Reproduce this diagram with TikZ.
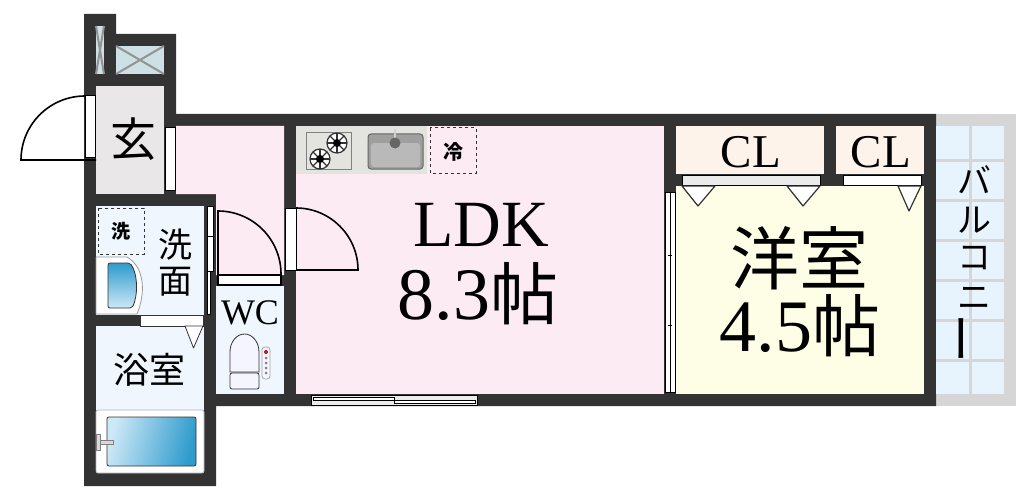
\documentclass[tikz,border=0pt]{standalone}
\usepackage{fontspec}
\setmainfont{Liberation Serif}
\newfontfamily\jp{Noto Sans CJK JP}
\usetikzlibrary{calc, positioning}
\definecolor{wallc}{HTML}{333333}
\definecolor{pinkc}{HTML}{FDEBF3}
\definecolor{creamc}{HTML}{FEFEE6}
\definecolor{closetc}{HTML}{FDF3EB}
\definecolor{bluec}{HTML}{EFF6FD}
\definecolor{balc}{HTML}{E8F4FD}
\definecolor{railc}{HTML}{D6D6D6}
\definecolor{shaftc}{HTML}{CDE0E6}
\definecolor{entryc}{HTML}{E9E7E8}
\definecolor{kitchenc}{HTML}{E3E3DF}
\definecolor{tubc}{HTML}{2E9BCD}
\definecolor{tublight}{HTML}{CDE8F6}
\tikzstyle{door} = [draw=black, line width=1pt, fill=white]
\tikzstyle{swing} = [draw=black, line width=1.6pt]
\tikzstyle{doorv} = [draw=wallc, line width=1.2pt, fill=white, line join=round]
\tikzstyle{label} = [inner sep=0pt, align=center, black]
\tikzstyle{memo} = [draw=wallc, dashed, line width=1pt]
\newcommand{\fs}[1]{\fontsize{#1}{#1}\selectfont}
\begin{document}
\begin{tikzpicture}[x=1pt, y=-1pt]
		\useasboundingbox (0,0) rectangle (1030,500);
		% walls
		\fill [railc] (936,114) rectangle (1016,406);
		\fill [wallc] (84,14) -- (116,14) -- (116,34) -- (176,34) -- (176,114) -- (936,114) -- (936,406) -- (216,406) -- (216,486) -- (84,486) -- cycle;
		% balcony
		\fill [balc] (936,126) rectangle (1004,394);
		\draw [railc, line width=3pt] (970,126) -- (970,394);
		\foreach \y in {160,200,240,280,320,360}
			\draw [railc, line width=3pt] (936,\y) -- (1004,\y);
		% shafts
		\fill [shaftc] (96,26) rectangle (104,74);
		\fill [shaftc] (116,46) rectangle (164,74);
		\draw [gray!85, line width=2pt] (96,26) -- (104,74) (104,26) -- (96,74);
		\draw [gray!85, line width=2pt] (116,46) -- (164,74) (164,46) -- (116,74);
		% rooms
		\fill [entryc] (96,86) rectangle (164,194);
		\fill [pinkc] (176,126) -- (284,126) -- (284,275) -- (216,275) -- (216,194) -- (176,194) -- cycle;
		\fill [pinkc] (296,126) rectangle (664,394);
		\fill [creamc] (676,186) rectangle (924,394);
		\fill [closetc] (676,126) rectangle (824,174);
		\fill [closetc] (836,126) rectangle (924,174);
		\fill [bluec] (96,206) rectangle (204,315);
		\fill [bluec] (96,326) rectangle (204,473);
		\fill [bluec] (216,286) rectangle (284,394);
		% entrance door
		\draw [swing] (85,96) arc [start angle=-90, end angle=-180, radius=64] -- (96,160);
		\draw [door] (85,96) rectangle (95,157);
		\draw [door] (165,128) rectangle (175,190);
		% inner doors
		\draw [swing] (218,274) -- (218,211) arc [start angle=-90, end angle=0, radius=63];
		\draw [door, line width=1.6pt] (218,275) rectangle (281,285);
		\draw [swing] (296,208) arc [start angle=-90, end angle=0, radius=62] -- (285,270);
		\draw [door] (285,208) rectangle (296,270);
		% sliding doors
		\draw [door, line width=0.8pt] (207,206) rectangle (213,271);
		\draw [door, line width=0.8pt] (207,271) rectangle (210,314);
		\draw [line width=0.8pt] (207,236) -- (213,236);
		\draw [wallc, fill=white, line width=0.5pt] (140,315) rectangle (203,326);
		\draw [doorv, line width=0.8pt] (185,326) -- (203,326) -- (193.5,348) -- cycle;
		\draw [door, line width=0.8pt] (665,192) rectangle (675,392);
		\draw [line width=0.5pt] (670,192) -- (670,392);
		\foreach \y in {255,325}
			\draw [line width=0.8pt] (668,\y) -- (672,\y);
		\draw [door, fill=black!8] (682,175) rectangle (820,185);
		\draw [door] (843,175) rectangle (921,185);
		\draw [doorv] (682,186) -- (715,186) -- (698,206) -- cycle;
		\draw [doorv] (787,186) -- (820,186) -- (803,206) -- cycle;
		\draw [doorv] (898,186) -- (921,186) -- (909,211) -- cycle;
		% window
		\draw [door, line width=0.8pt, fill=black!8] (311,395) rectangle (477,405);
		\draw [line width=0.8pt, fill=white] (313,397) rectangle (394,400);
		\draw [line width=0.8pt, fill=white] (394,400) rectangle (475,403);
		% kitchen
		\fill [kitchenc] (296,126) rectangle (427,174);
		\draw [gray, line width=0.8pt] (306,132) rectangle (351,169);
		\foreach \cx/\cy in {337/143,320/159}{
			\draw [wallc, fill=white, line width=1.2pt] (\cx,\cy) circle (10);
			\foreach \a in {0,45,...,315}
				\draw [wallc, line width=1.2pt] (\cx,\cy) -- ++(\a:10);
			\fill [black] (\cx,\cy) circle (4);
		}
		\draw [gray!80!black, fill=gray!75, line width=1pt, rounded corners=3pt] (368,134) rectangle (423,169);
		\fill [gray!55, rounded corners=3pt] (371,143) rectangle (420,167);
		\draw [gray!35, line width=2.5pt] (395,129) -- (395,143);
		\fill [gray!80!black] (395,143) circle (5.5);
		\draw [memo] (430,128) rectangle (476,173);
		% wash room
		\draw [memo] (98,208) rectangle (144,254);
		\draw [gray!80, fill=white, line width=0.8pt] (96,257) -- (127,257) .. controls (146,268) and (145,295) .. (137,314) -- (96,314) -- cycle;
		\draw [wallc, line width=0.8pt, rounded corners=2pt, top color=tubc, bottom color=tublight] (108,263) -- (130,263) .. controls (138,274) and (138,296) .. (132,308) -- (108,308) -- cycle;
		% bath
		\draw [gray!60, fill=white, line width=0.8pt, rounded corners=2pt] (96,410) rectangle (204,473);
		\draw [wallc, line width=0.8pt, rounded corners=2pt, left color=tublight, right color=tubc, shading angle=75] (107,417) rectangle (196,466);
		\draw [gray, fill=gray!30, line width=0.6pt] (96,434) rectangle (100,450);
		\draw [gray, fill=gray!30, line width=0.6pt] (100,440) rectangle (113,444);
		% toilet
		\draw [wallc, fill=white!96!blue, line width=0.8pt] (230,372) -- (230,352) arc [start angle=180, end angle=360, x radius=14.5, y radius=18] -- (259,372) -- cycle;
		\draw [wallc, fill=white!96!blue, line width=0.8pt, rounded corners=2pt] (230,373) rectangle (259,389);
		\draw [gray!70, fill=white!96!blue, line width=0.8pt, rounded corners=3pt] (262,347) rectangle (270,379);
		\fill [red!70!black!90] (266,352) circle (2);
		\foreach \y in {358,363,368,373}
			\fill [gray] (266,\y) circle (1.5);
		% labels
		\node (Genkan) [label] at (133,139) {\jp\fs{46}玄};
		\node (Sentaku) [label] at (121,231) {\jp\bfseries\fs{19}洗};
		\node (Sen) [label] at (175,245) {\jp\fs{34}洗};
		\node (Men) [label] at (175,282) {\jp\fs{34}面};
		\node (Yokushitsu) [label] at (149,370) {\jp\fs{36}浴室};
		\node (WC) [label] at (250,313) {\fs{36}WC};
		\node (Rei) [label] at (453,152) {\jp\bfseries\fs{20}冷};
		\node (LDK) [label] at (481,225) {\fs{66}LDK};
		\node (LDKsize) [label] at (478,294) {\fs{74}8.3{\jp\fs{68}帖}};
		\node (Yoshitsu) [label] at (799,258) {\jp\fs{69}洋室};
		\node (Yoshitsusize) [label] at (800,326) {\fs{74}4.5{\jp\fs{68}帖}};
		\node (CLa) [label] at (751,152) {\fs{47}CL};
		\node (CLb) [label] at (881,152) {\fs{47}CL};
		\node (Ba) [label] at (974,180) {\jp\fs{34}バ};
		\node (Ru) [label] at (974,220) {\jp\fs{34}ル};
		\node (Ko) [label] at (974,258) {\jp\fs{34}コ};
		\node (Ni) [label] at (974,298) {\jp\fs{34}ニ};
		\node (Bo) [label, rotate=90] at (970,338) {\jp\fs{50}ー};
\end{tikzpicture}
\end{document}
